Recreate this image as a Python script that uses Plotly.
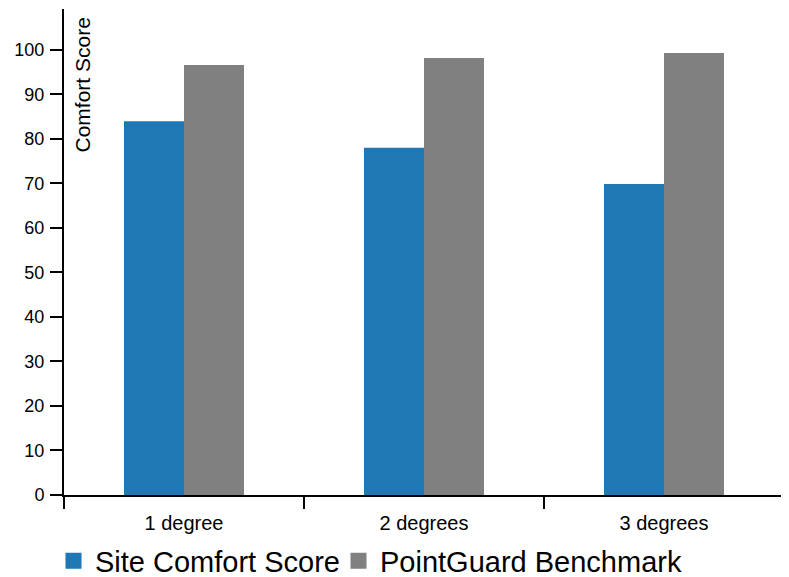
import plotly.graph_objects as go

categories = ["1 degree", "2 degrees", "3 degrees"]
site_scores = [84.0, 78.0, 69.9]
benchmark_scores = [96.6, 98.2, 99.3]
series_names = ["Site Comfort Score", "PointGuard Benchmark"]
y_ticks = [0, 10, 20, 30, 40, 50, 60, 70, 80, 90, 100]
y_title = "Comfort Score"

BLUE = "#1f77b4"
GRAY = "#808080"
FONT = "Liberation Sans, Arial, sans-serif"

# page has an 8px body margin; layout values compensate for it
OFF = 8

fig = go.Figure()
fig.add_trace(go.Bar(x=categories, y=site_scores, name=series_names[0],
                     marker=dict(color=BLUE, line=dict(width=0)), showlegend=False))
fig.add_trace(go.Bar(x=categories, y=benchmark_scores, name=series_names[1],
                     marker=dict(color=GRAY, line=dict(width=0)), showlegend=False))
# legend entries
for nm, col, lg in zip(series_names, [BLUE, GRAY], ["legend", "legend2"]):
    fig.add_trace(go.Scatter(x=[None], y=[None], mode="markers", name=nm, legend=lg,
                             marker=dict(symbol="square", size=20, color=col)))

legend_common = dict(orientation="h", xref="container", yref="container",
                     xanchor="left", y=1 - (561 - OFF) / 577, yanchor="middle",
                     font=dict(size=29, family=FONT), itemsizing="trace",
                     tracegroupgap=0, itemwidth=33, bgcolor="rgba(0,0,0,0)")

fig.update_layout(
    width=789, height=577,
    margin=dict(l=64 - OFF, r=789 - (784 - OFF), t=1, b=577 - (495 - OFF), autoexpand=False),
    paper_bgcolor="white", plot_bgcolor="white",
    barmode="group", bargap=0.5, bargroupgap=0,
    font=dict(family=FONT, color="black", size=18),
    showlegend=True,
    legend=dict(x=(52 - OFF) / 789, **legend_common),
    legend2=dict(x=(337 - OFF) / 789, **legend_common),
    xaxis=dict(type="category", showline=True, linecolor="black", linewidth=2,
               ticks="outside", ticklen=12, tickwidth=2, tickcolor="black",
               tickson="boundaries", showgrid=False, zeroline=False, automargin=False,
               ticklabelstandoff=9, tickfont=dict(size=20, family=FONT)),
    yaxis=dict(range=[0, 109.2], tickvals=y_ticks, showline=True, linecolor="black",
               linewidth=2, ticks="outside", ticklen=12, tickwidth=2, tickcolor="black",
               showgrid=False, zeroline=False, automargin=False, ticklabelstandoff=2,
               tickfont=dict(size=18, family=FONT)),
    annotations=[dict(text=y_title, textangle=-90, xref="paper", yref="paper",
                      x=18 / 720, y=1 - 7 / 487, xanchor="center",
                      yanchor="top", showarrow=False, font=dict(size=21, family=FONT))],
)

fig.write_html("out.html")
